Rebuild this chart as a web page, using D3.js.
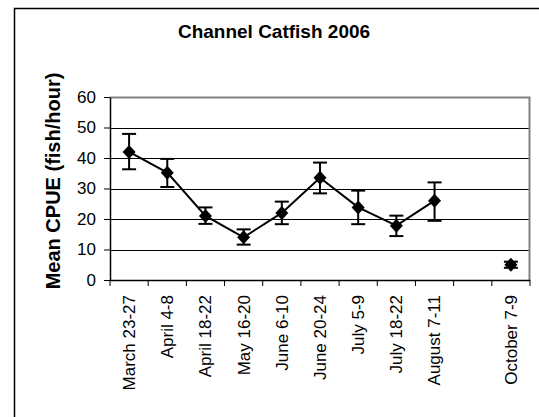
<!DOCTYPE html>
<html>
<head>
<meta charset="utf-8">
<script src="https://cdn.jsdelivr.net/npm/d3@7"></script>
<style>
  body { margin: 0; background: #fff; }
  text { font-family: Arial, "Liberation Sans", sans-serif; }
</style>
</head>
<body>
<script>
// Daten
const periods = ["March 23-27", "April 4-8", "April 18-22", "May 16-20", "June 6-10",
  "June 20-24", "July 5-9", "July 18-22", "August 7-11", "", "October 7-9"];
const means = [42, 35.2, 21, 14, 22, 33.5, 23.8, 17.8, 26, null, 5];
const upper = [47.9, 39.7, 23.8, 16.6, 25.7, 38.5, 29.3, 21.1, 32, null, 6];
const lower = [36.3, 30.5, 18.4, 11.6, 18.3, 28.4, 18.3, 14.4, 19.4, null, 4];
const yTicks = [0, 10, 20, 30, 40, 50, 60];

const W = 539, H = 417;
const svg = d3.select("body").append("svg").attr("width", W).attr("height", H);

// äußerer Rahmen (nur links und oben sichtbar)
svg.append("path").attr("d", `M14.5,${H} V8.5 H${W}`)
  .attr("fill", "none").attr("stroke", "#000").attr("stroke-width", 1.5);

const plot = { left: 110, right: 530, top: 97, bottom: 280 };

const x = d3.scaleBand().domain(d3.range(periods.length))
  .range([plot.left, plot.right]);
const y = d3.scaleLinear().domain([0, 60]).range([plot.bottom, plot.top]);

// Titel
svg.append("text").attr("x", 274).attr("y", 38).attr("text-anchor", "middle")
  .attr("font-size", 19).attr("font-weight", "bold").text("Channel Catfish 2006");

// Gitterlinien
svg.append("g").selectAll("line").data(yTicks.filter(d => d > 0 && d < 60)).join("line")
  .attr("x1", plot.left).attr("x2", plot.right)
  .attr("y1", d => Math.round(y(d)) + 0.5).attr("y2", d => Math.round(y(d)) + 0.5)
  .attr("stroke", "#000").attr("stroke-width", 1);

// Plotrahmen oben/rechts grau
svg.append("path")
  .attr("d", `M${plot.left},${plot.top + 0.5} H${plot.right - 0.5} V${plot.bottom}`)
  .attr("fill", "none").attr("stroke", "#808080").attr("stroke-width", 2);

// y-Achse
const yAxis = svg.append("g").attr("transform", `translate(${plot.left},0)`)
  .call(d3.axisLeft(y).tickValues(yTicks).tickSize(6).tickSizeOuter(0));
yAxis.select(".domain").attr("stroke", "#000").attr("stroke-width", 1.5);
yAxis.selectAll(".tick line").attr("stroke", "#000");
yAxis.selectAll(".tick text").attr("font-size", 17).attr("x", -14)
  .attr("font-family", "Arial, 'Liberation Sans', sans-serif").attr("fill", "#000");

// x-Achse
const xTickPos = d3.range(periods.length + 1).map(i => plot.left + i * x.step());
const xg = svg.append("g");
xg.append("line").attr("x1", plot.left).attr("x2", plot.right)
  .attr("y1", plot.bottom + 0.5).attr("y2", plot.bottom + 0.5)
  .attr("stroke", "#000").attr("stroke-width", 1.5);
xg.selectAll(".tk").data(xTickPos).join("line").attr("class", "tk")
  .attr("x1", d => d).attr("x2", d => d)
  .attr("y1", plot.bottom).attr("y2", plot.bottom + 6)
  .attr("stroke", "#000").attr("stroke-width", 1);
xg.selectAll(".lbl").data(periods).join("text").attr("class", "lbl")
  .attr("transform", (d, i) => `translate(${x(i) + x.bandwidth() / 2},295) rotate(-90)`)
  .attr("dy", "0.35em")
  .attr("text-anchor", "end").attr("font-size", 17).text(d => d);

// y-Achsentitel
svg.append("text")
  .attr("transform", `translate(53,181) rotate(-90)`)
  .attr("dy", "0.35em")
  .attr("text-anchor", "middle").attr("font-size", 20).attr("font-weight", "bold")
  .text("Mean CPUE (fish/hour)");

const cx = i => x(i) + x.bandwidth() / 2;
const idx = d3.range(periods.length).filter(i => means[i] != null);

// Linie
const line = d3.line().defined(i => means[i] != null).x(i => cx(i)).y(i => y(means[i]));
svg.append("path").datum(d3.range(periods.length)).attr("d", line)
  .attr("fill", "none").attr("stroke", "#000").attr("stroke-width", 2);

// Fehlerbalken
const eb = svg.append("g").attr("stroke", "#000").attr("stroke-width", 2);
idx.forEach(i => {
  eb.append("line").attr("x1", cx(i)).attr("x2", cx(i))
    .attr("y1", y(upper[i])).attr("y2", y(lower[i]));
  [upper[i], lower[i]].forEach(v => {
    eb.append("line").attr("x1", cx(i) - 7).attr("x2", cx(i) + 7)
      .attr("y1", y(v)).attr("y2", y(v));
  });
});

// Marker
svg.append("g").selectAll("path").data(idx).join("path")
  .attr("transform", i => `translate(${cx(i)},${y(means[i])})`)
  .attr("d", "M0,-7 L6.5,0 L0,7 L-6.5,0 Z").attr("fill", "#000");
</script>
</body>
</html>
